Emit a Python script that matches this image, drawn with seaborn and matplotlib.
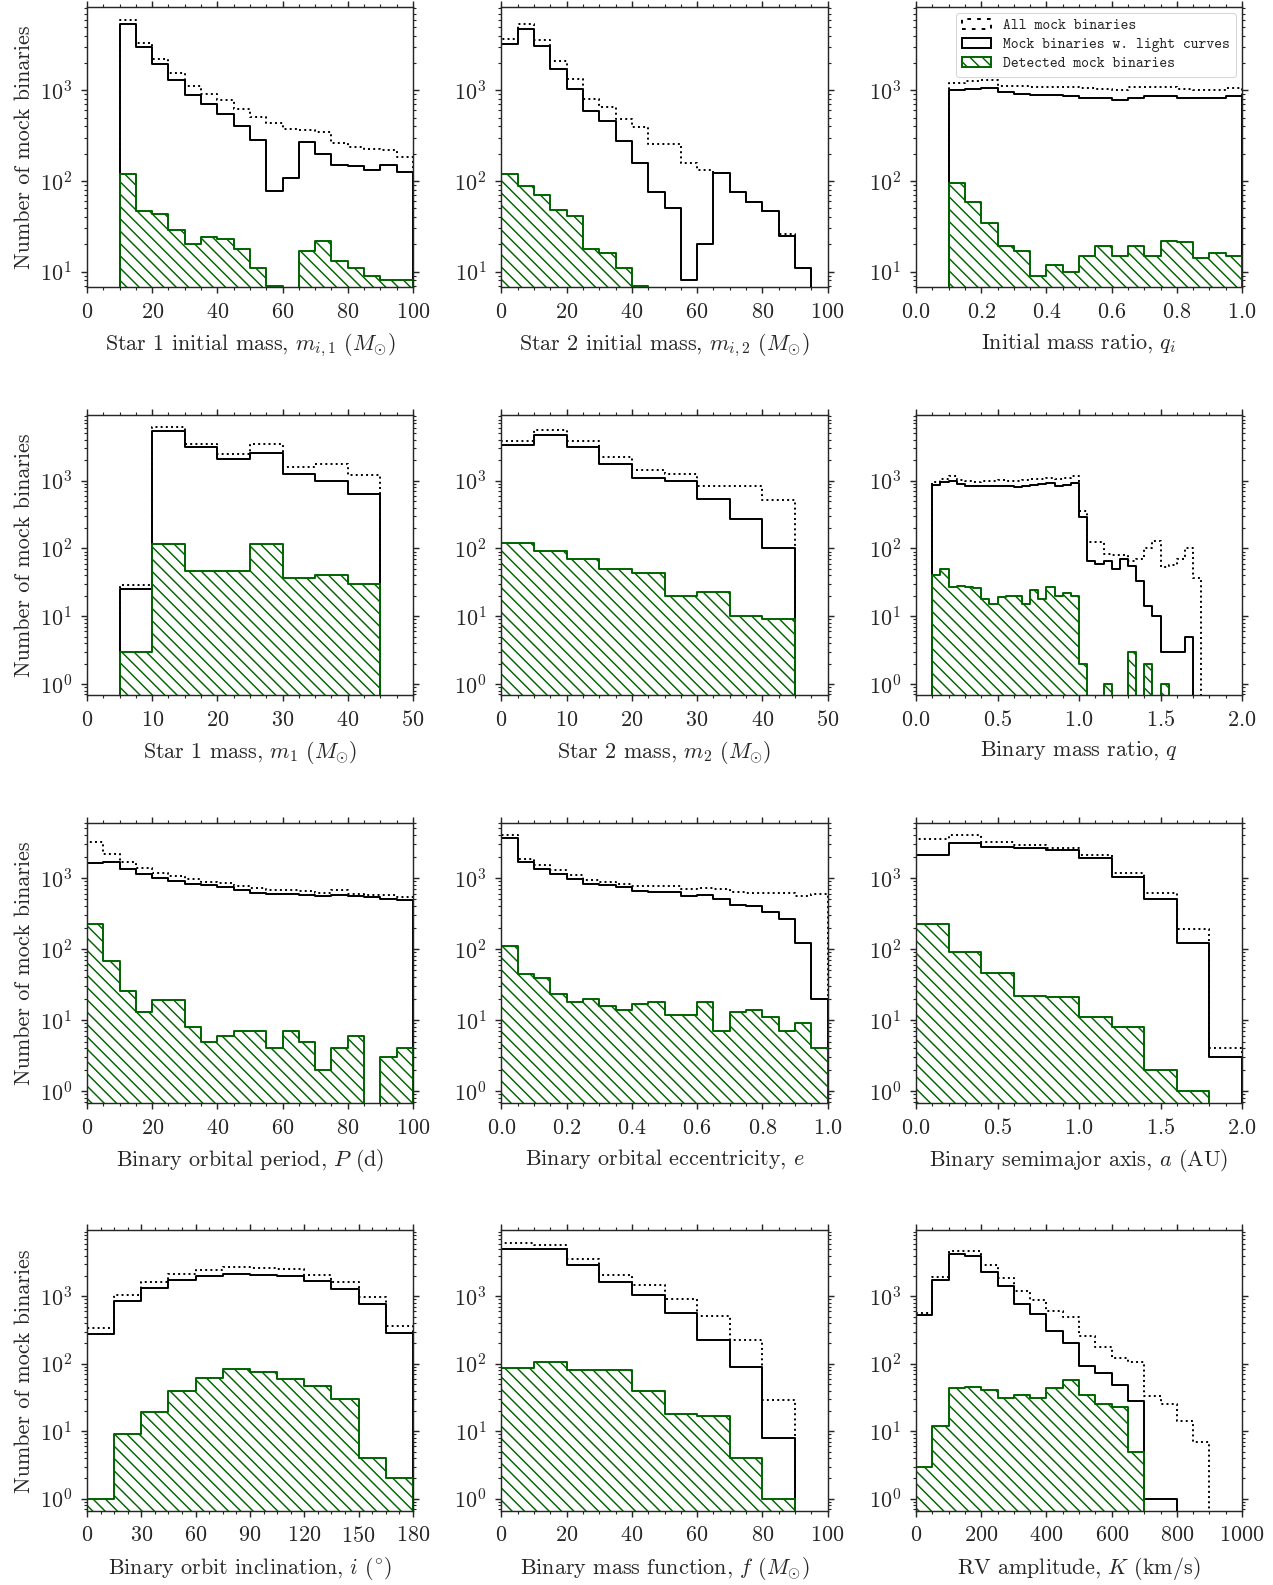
import numpy as np
import matplotlib
matplotlib.use("Agg")
import matplotlib.pyplot as plt
import seaborn as sns
from matplotlib.ticker import MultipleLocator, LogLocator, NullFormatter
from matplotlib.font_manager import FontProperties

# ---- bin edges ----
mi_edges = np.linspace(0, 100, 21)
qi_edges = np.linspace(0, 1, 21)
m_edges = np.linspace(0, 50, 11)
q_edges = np.linspace(0, 2, 41)
p_edges = np.linspace(0, 100, 21)
e_edges = np.linspace(0, 1, 21)
a_edges = np.linspace(0, 2, 11)
i_edges = np.linspace(0, 180, 13)
f_edges = np.linspace(0, 100, 11)
k_edges = np.linspace(0, 1000, 21)

# ---- counts: all mock / with light curves / detected ----
all_m1i = [0, 0, 5930, 3330, 2240, 1550, 1125, 903, 775, 627, 507, 436, 377, 367, 343, 262, 235, 227, 217, 183]
lc_m1i = [0, 0, 5410, 2985, 1953, 1312, 896, 713, 552, 407, 285, 77, 107, 266, 198, 151, 147, 133, 151, 125]
det_m1i = [0, 0, 119, 47, 43, 29, 20, 24, 23, 18, 11, 7, 0, 17, 22, 13, 11, 9, 8, 8]

all_m2i = [3690, 5410, 3630, 2090, 1334, 802, 649, 486, 390, 257, 257, 157, 133, 122, 76, 58, 47, 26, 11, 0]
lc_m2i = [3250, 4720, 3060, 1720, 1035, 586, 463, 273, 157, 75, 51, 8, 20, 122, 75, 58, 47, 25, 11, 0]
det_m2i = [119, 87, 70, 48, 41, 18, 16, 11, 7, 0, 0, 0, 0, 0, 0, 0, 0, 0, 0, 0]

all_qi = [0, 0, 1205, 1257, 1290, 1125, 1107, 1088, 1088, 1088, 1052, 1035, 1017, 1088, 1088, 1088, 1035, 1017, 1000, 1060]
lc_qi = [0, 0, 1017, 1035, 1060, 950, 903, 888, 888, 873, 816, 816, 775, 830, 858, 873, 816, 816, 816, 858]
det_qi = [0, 0, 96, 59, 34, 19, 17, 9, 12, 10, 15, 19, 15, 19, 15, 22, 21, 14, 16, 15]

all_m1 = [0, 29, 6120, 3475, 2480, 3475, 1610, 1763, 1200, 0]
lc_m1 = [0, 25, 5470, 3100, 2110, 2530, 1255, 1000, 635, 0]
det_m1 = [0, 3, 116, 47, 47, 116, 37, 41, 30, 0]

all_m2 = [3800, 5660, 3800, 2210, 1436, 1254, 824, 843, 525, 0]
lc_m2 = [3400, 4775, 3140, 1780, 1095, 1000, 542, 275, 101, 0]
det_m2 = [120, 91, 71, 50, 44, 20, 23, 10, 9, 0]

all_q = [0, 0, 955, 1070, 1160, 1035, 1000, 955, 980, 1000, 1020, 980, 980, 1020, 1045, 1070, 1095, 1070,
         1095, 1160, 352, 124, 124, 83, 81, 81, 65, 70, 101, 127, 54, 58, 70, 100, 37, 0, 0, 0, 0, 0]
lc_q = [0, 0, 873, 945, 1000, 893, 843, 825, 843, 843, 843, 825, 797, 843, 873, 893, 913, 843,
        873, 913, 288, 65, 59, 65, 50, 70, 55, 33, 14, 10, 3, 3, 3, 5, 0, 0, 0, 0, 0, 0]
det_q = [0, 0, 41, 49, 27, 28, 27, 26, 18, 15, 19, 20, 20, 15, 24, 18, 27, 20,
         22, 20, 2, 0, 0, 1, 0, 0, 3, 0, 2, 0, 1, 0, 0, 0, 0, 0, 0, 0, 0, 0]

all_p = [3220, 2200, 1680, 1400, 1177, 1067, 980, 878, 850, 771, 723, 685, 670, 649, 621, 670, 601, 582, 570, 540]
lc_p = [1630, 1680, 1355, 1126, 1000, 897, 832, 788, 747, 670, 621, 594, 594, 582, 551, 582, 564, 540, 511, 494]
det_p = [222, 67, 26, 13, 19, 19, 8, 5, 6, 7, 7, 4, 7, 5, 2, 4, 6, 0, 3, 4]

all_e = [4000, 1830, 1510, 1283, 1090, 927, 878, 832, 771, 763, 763, 707, 730, 692, 635, 621, 614, 614, 564, 600]
lc_e = [3700, 1680, 1355, 1126, 979, 832, 788, 747, 649, 635, 635, 557, 570, 511, 421, 398, 331, 267, 122, 20]
det_e = [112, 44, 39, 23, 18, 20, 16, 14, 17, 18, 12, 12, 18, 7, 13, 14, 11, 7, 9, 4]

all_a = [3590, 4000, 3220, 2950, 2650, 2130, 1190, 621, 189, 4]
lc_a = [2090, 3150, 2710, 2600, 2460, 1915, 1020, 500, 121, 3]
det_a = [227, 90, 46, 22, 21, 11, 8, 2, 1, 0]

all_i = [341, 1058, 1610, 2140, 2480, 2680, 2620, 2530, 2090, 1646, 989, 361]
lc_i = [272, 863, 1328, 1722, 1973, 2140, 2065, 2020, 1665, 1283, 779, 281]
det_i = [1, 9, 19, 40, 61, 83, 76, 59, 47, 30, 4, 2]

all_f = [6120, 5660, 3560, 2040, 1487, 924, 507, 224, 29, 0]
lc_f = [5050, 5000, 2930, 1630, 1058, 568, 224, 90, 8, 0]
det_f = [85, 106, 81, 81, 39, 18, 17, 4, 1, 0]

all_k = [568, 1930, 4720, 4610, 2930, 1865, 1185, 873, 601, 495, 257, 179, 120, 107, 33, 25, 14, 7, 0, 0]
lc_k = [519, 1762, 4215, 3980, 2285, 1405, 779, 536, 305, 205, 93, 72, 49, 28, 1, 1, 0, 0, 0, 0]
det_k = [3, 12, 43, 46, 41, 31, 35, 31, 43, 58, 35, 25, 23, 5, 0, 0, 0, 0, 0, 0]

xlabels = [r"Star 1 initial mass, $m_{i,1}$ ($M_{\odot}$)",
           r"Star 2 initial mass, $m_{i,2}$ ($M_{\odot}$)",
           r"Initial mass ratio, $q_i$",
           r"Star 1 mass, $m_1$ ($M_{\odot}$)",
           r"Star 2 mass, $m_2$ ($M_{\odot}$)",
           r"Binary mass ratio, $q$",
           r"Binary orbital period, $P$ (d)",
           r"Binary orbital eccentricity, $e$",
           r"Binary semimajor axis, $a$ (AU)",
           r"Binary orbit inclination, $i$ ($^{\circ}$)",
           r"Binary mass function, $f$ ($M_{\odot}$)",
           r"RV amplitude, $K$ (km/s)"]

legend_labels = ["All mock binaries", "Mock binaries w. light curves", "Detected mock binaries"]

panels = [
    (mi_edges, all_m1i, lc_m1i, det_m1i, (0, 100), 20, 5),
    (mi_edges, all_m2i, lc_m2i, det_m2i, (0, 100), 20, 5),
    (qi_edges, all_qi, lc_qi, det_qi, (0, 1), 0.2, 0.05),
    (m_edges, all_m1, lc_m1, det_m1, (0, 50), 10, 2.5),
    (m_edges, all_m2, lc_m2, det_m2, (0, 50), 10, 2.5),
    (q_edges, all_q, lc_q, det_q, (0, 2), 0.5, 0.1),
    (p_edges, all_p, lc_p, det_p, (0, 100), 20, 5),
    (e_edges, all_e, lc_e, det_e, (0, 1), 0.2, 0.05),
    (a_edges, all_a, lc_a, det_a, (0, 2), 0.5, 0.1),
    (i_edges, all_i, lc_i, det_i, (0, 180), 30, 7.5),
    (f_edges, all_f, lc_f, det_f, (0, 100), 20, 5),
    (k_edges, all_k, lc_k, det_k, (0, 1000), 200, 50),
]
row_ylim = [(6.7, 8300), (0.68, 9400), (0.68, 6000), (0.66, 9400)]

sns.set_style("ticks")
plt.rcParams["font.family"] = "cmr10"
plt.rcParams["mathtext.fontset"] = "cm"
plt.rcParams["axes.formatter.use_mathtext"] = True
plt.rcParams["axes.unicode_minus"] = False
plt.rcParams["hatch.linewidth"] = 1.4
plt.rcParams["axes.linewidth"] = 1.4

DPI = 74
fig, axes = plt.subplots(4, 3, figsize=(1273 / DPI, 1585 / DPI), dpi=DPI,
                         gridspec_kw=dict(left=0.0683, right=0.9757, top=0.9956, bottom=0.0467,
                                          wspace=0.2715, hspace=0.454))

fs = 21.5
green = "#006400"
for k, ax in enumerate(axes.flat):
    edges, a, l, d, xlim, major, minor = panels[k]
    centers = 0.5 * (edges[:-1] + edges[1:])
    bins = edges.tolist()
    sns.histplot(x=centers, weights=a, bins=bins, element="step", fill=True, alpha=1,
                 color="black", facecolor="none", edgecolor="black", linestyle=":", linewidth=1.9,
                 ax=ax, label=legend_labels[0])
    sns.histplot(x=centers, weights=l, bins=bins, element="step", fill=True, alpha=1,
                 color="black", facecolor="none", edgecolor="black", linewidth=1.9,
                 ax=ax, label=legend_labels[1])
    sns.histplot(x=centers, weights=d, bins=bins, element="step", fill=True, alpha=1,
                 color=green, facecolor="none", edgecolor=green, hatch="\\\\", linewidth=1.9,
                 ax=ax, label=legend_labels[2])
    ax.set_yscale("log")
    ax.set_xlim(*xlim)
    ax.set_ylim(*row_ylim[k // 3])
    ax.xaxis.set_major_locator(MultipleLocator(major))
    ax.xaxis.set_minor_locator(MultipleLocator(minor))
    ax.yaxis.set_major_locator(LogLocator(base=10, numticks=20))
    ax.yaxis.set_minor_locator(LogLocator(base=10, subs=np.arange(2, 10), numticks=20))
    ax.yaxis.set_minor_formatter(NullFormatter())
    ax.tick_params(which="both", direction="out", top=True, right=True, labelsize=fs, pad=8.5)
    ax.tick_params(which="major", length=6, width=1.4)
    ax.tick_params(which="minor", length=3.3, width=1.1)
    for s in ax.spines.values():
        s.set_linewidth(1.4)
    ax.set_xlabel(xlabels[k], fontsize=fs, labelpad=9)
    if k % 3 == 0:
        ax.set_ylabel("Number of mock binaries", fontsize=fs, labelpad=6)
    else:
        ax.set_ylabel("")
    if k == 2:
        ax.legend(loc="upper right", prop=FontProperties(family="cmtt10", size=14.5),
                  labelspacing=0.3, handlelength=2.0, borderaxespad=0.4)

fig.savefig("out.png", dpi=DPI)
